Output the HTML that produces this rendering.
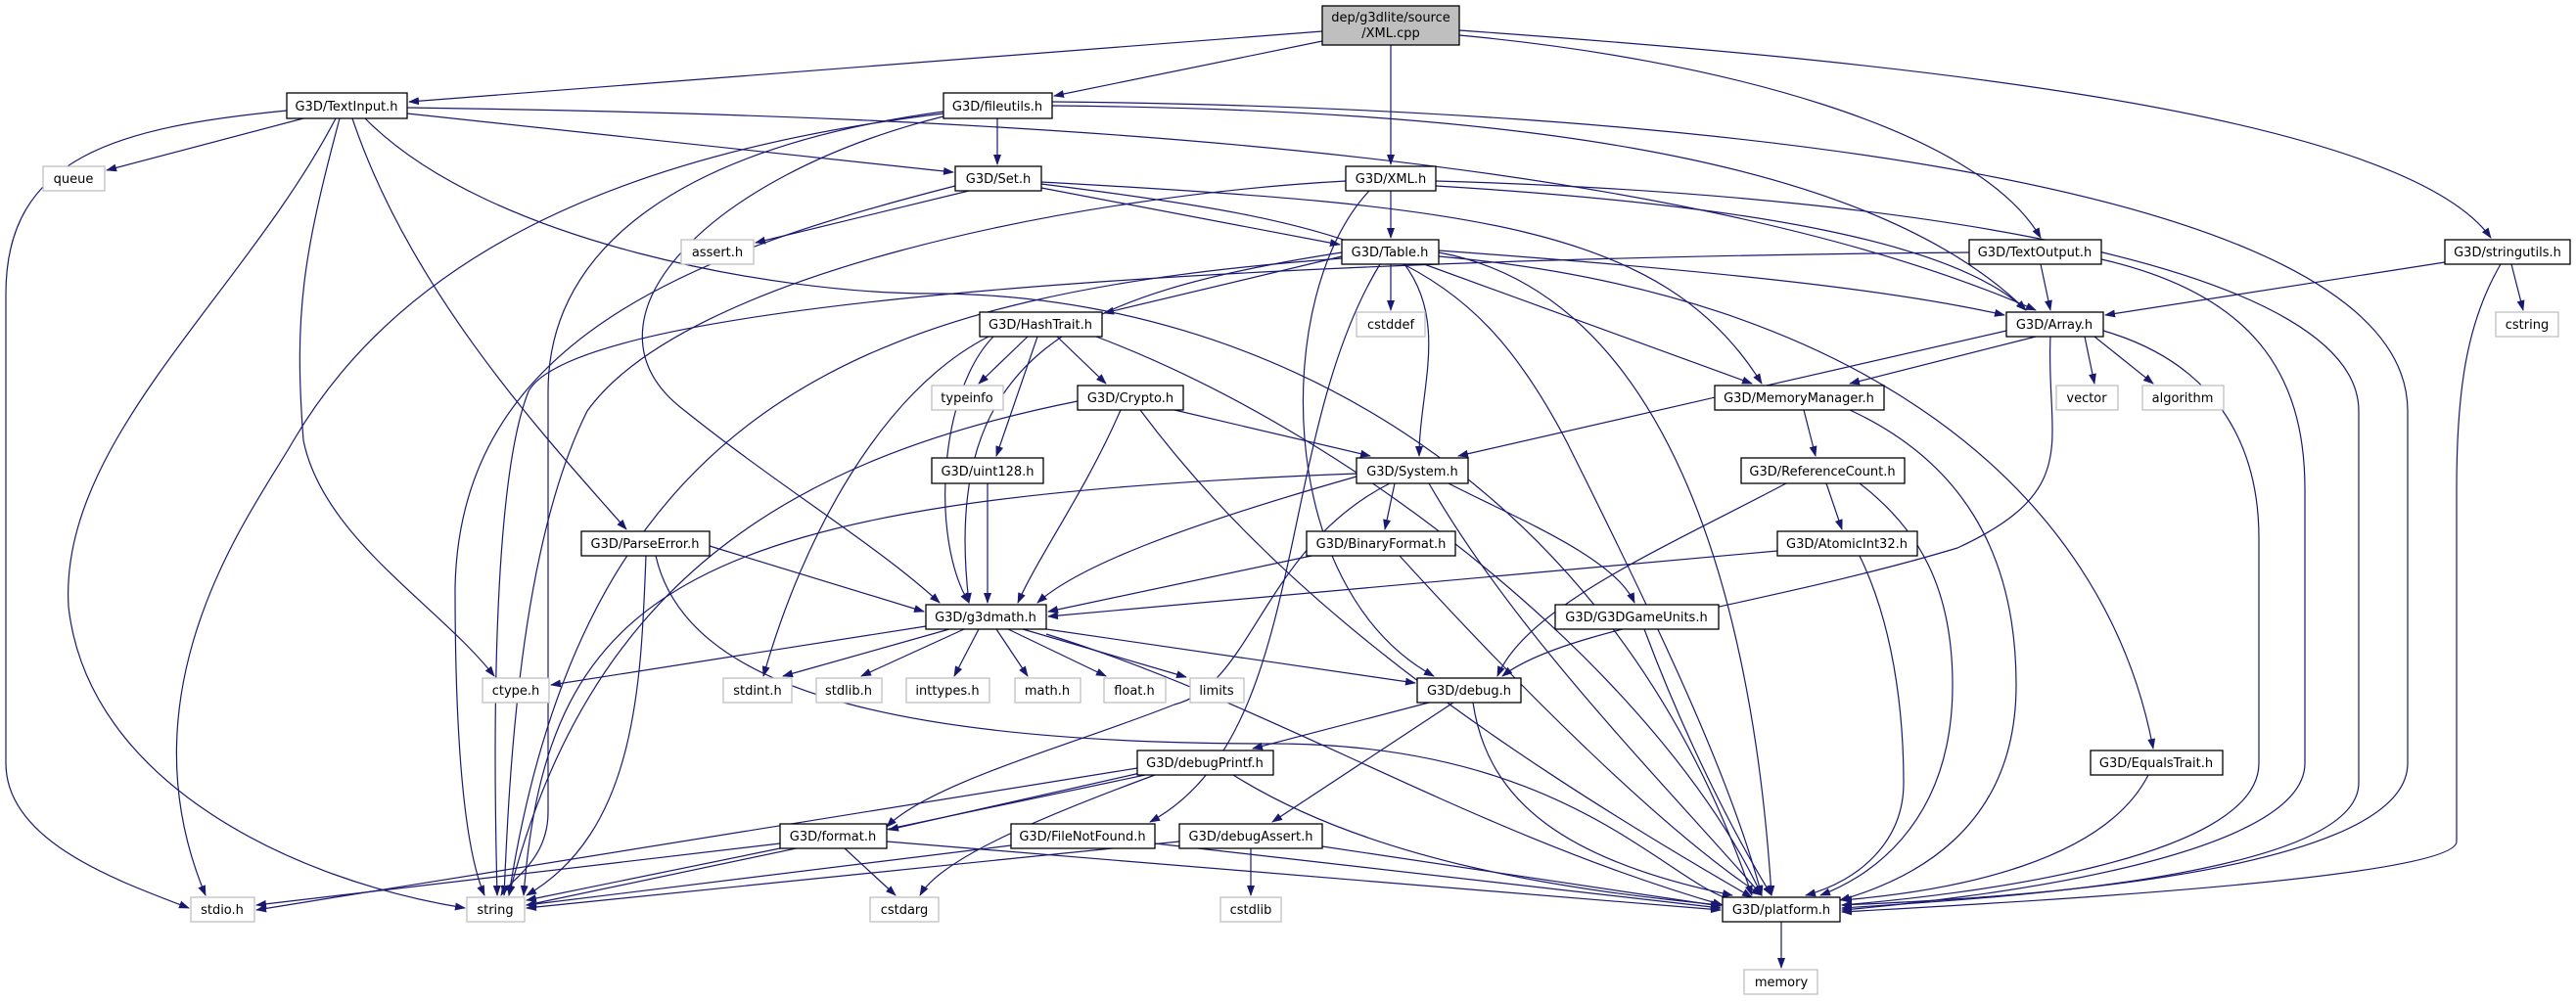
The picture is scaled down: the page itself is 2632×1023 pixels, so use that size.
<!DOCTYPE html>
<html><head><meta charset="utf-8"><style>
html,body{margin:0;padding:0;background:#fff;}
svg{display:block;}
text{font-family:"DejaVu Sans","Liberation Sans",sans-serif;font-size:13px;fill:#000;}
.e path{fill:none;stroke:#191970;stroke-width:1.2;}
.n rect{fill:#fff;stroke:#000;stroke-width:1.3;}
.g rect{fill:#fff;stroke:#bfbfbf;stroke-width:1.3;}
</style></head><body>
<svg width="2632" height="1023" viewBox="0 0 2632 1023" xmlns="http://www.w3.org/2000/svg">
<defs><marker id="a" markerWidth="11" markerHeight="8" refX="10" refY="4" orient="auto" markerUnits="userSpaceOnUse"><path d="M0,0 L11,4 L0,8 z" fill="#191970"/></marker></defs>
<g class="e" marker-end="url(#a)">
<path d="M1351,32 L418,104" marker-end="url(#a)"/>
<path d="M1351,42 L1077,98" marker-end="url(#a)"/>
<path d="M1421,46 L1421,168" marker-end="url(#a)"/>
<path d="M1491,36 C1750,60 2020,130 2085,243" marker-end="url(#a)"/>
<path d="M1491,31 C1900,60 2450,110 2545,243" marker-end="url(#a)"/>
<path d="M310,121 L109,174" marker-end="url(#a)"/>
<path d="M416,116 L974,176" marker-end="url(#a)"/>
<path d="M416,110 C1000,118 1700,150 2080,317" marker-end="url(#a)"/>
<path d="M373,121 C500,250 800,300 950,300 C1300,300 1650,500 1790,915" marker-end="url(#a)"/>
<path d="M293,113 C120,130 6,160 6,300 L6,780 C6,860 120,900 193,928" marker-end="url(#a)"/>
<path d="M343,121 C250,300 60,450 70,620 C90,800 300,900 475,928" marker-end="url(#a)"/>
<path d="M347,121 C310,260 300,320 310,450 C330,550 450,620 505,691" marker-end="url(#a)"/>
<path d="M360,121 C420,300 560,450 640,541" marker-end="url(#a)"/>
<path d="M1019,121 L1019,168" marker-end="url(#a)"/>
<path d="M1075,108 C1500,112 1900,150 2070,317" marker-end="url(#a)"/>
<path d="M1075,104 C1700,110 2460,180 2460,420 L2460,780 C2460,900 2000,920 1882,925" marker-end="url(#a)"/>
<path d="M964,114 C700,150 560,250 560,400 L560,830 C560,880 520,900 512,915" marker-end="url(#a)"/>
<path d="M964,116 C600,160 400,280 300,450 C260,520 120,700 210,915" marker-end="url(#a)"/>
<path d="M964,119 C720,180 580,330 700,420 C800,500 900,560 960,616" marker-end="url(#a)"/>
<path d="M990,195 L772,248" marker-end="url(#a)"/>
<path d="M1064,192 L1369,250" marker-end="url(#a)"/>
<path d="M976,190 C700,260 470,350 465,600 C465,800 480,880 495,915" marker-end="url(#a)"/>
<path d="M1064,186 C1500,210 1700,230 1800,392" marker-end="url(#a)"/>
<path d="M1064,188 C1400,230 1500,260 1600,450 C1700,650 1770,800 1800,915" marker-end="url(#a)"/>
<path d="M1421,195 L1421,243" marker-end="url(#a)"/>
<path d="M1467,190 C1800,210 2000,250 2070,317" marker-end="url(#a)"/>
<path d="M1467,185 C2000,200 2410,280 2410,420 L2410,800 C2410,900 2000,920 1882,928" marker-end="url(#a)"/>
<path d="M1399,195 C1300,300 1300,600 1465,691" marker-end="url(#a)"/>
<path d="M1375,185 C1100,200 700,280 600,420 C530,560 520,800 515,915" marker-end="url(#a)"/>
<path d="M1371,262 L1128,320" marker-end="url(#a)"/>
<path d="M1421,270 L1421,317" marker-end="url(#a)"/>
<path d="M1435,270 C1480,330 1450,400 1450,466" marker-end="url(#a)"/>
<path d="M1470,256 C1800,280 1950,300 2048,322" marker-end="url(#a)"/>
<path d="M1455,270 L1790,392" marker-end="url(#a)"/>
<path d="M1470,262 C1900,300 2150,500 2200,765" marker-end="url(#a)"/>
<path d="M1371,258 C1100,300 960,360 990,616" marker-end="url(#a)"/>
<path d="M1371,264 C900,300 600,400 520,915" marker-end="url(#a)"/>
<path d="M1470,258 C1700,300 1790,600 1810,915" marker-end="url(#a)"/>
<path d="M1410,270 C1300,450 1340,750 1175,840" marker-end="url(#a)"/>
<path d="M2085,270 L2095,317" marker-end="url(#a)"/>
<path d="M2147,265 C2300,300 2355,380 2355,500 L2355,780 C2355,880 2000,920 1882,930" marker-end="url(#a)"/>
<path d="M2012,258 C1500,262 600,290 540,400 C500,500 505,800 508,915" marker-end="url(#a)"/>
<path d="M2498,268 L2151,322" marker-end="url(#a)"/>
<path d="M2566,270 L2578,317" marker-end="url(#a)"/>
<path d="M2555,270 C2520,330 2510,400 2510,500 L2510,860 C2510,900 2000,925 1882,932" marker-end="url(#a)"/>
<path d="M1050,344 L1000,392" marker-end="url(#a)"/>
<path d="M1080,344 L1130,392" marker-end="url(#a)"/>
<path d="M1060,344 L1018,466" marker-end="url(#a)"/>
<path d="M1015,344 C960,400 950,550 990,616" marker-end="url(#a)"/>
<path d="M1010,344 C900,400 820,550 780,691" marker-end="url(#a)"/>
<path d="M1120,344 C1400,450 1700,700 1800,915" marker-end="url(#a)"/>
<path d="M2080,344 L1890,392" marker-end="url(#a)"/>
<path d="M2130,344 L2140,392" marker-end="url(#a)"/>
<path d="M2140,344 L2200,392" marker-end="url(#a)"/>
<path d="M2050,338 L1490,466" marker-end="url(#a)"/>
<path d="M2095,344 C2090,450 2130,500 2000,560 C1800,620 1600,640 1535,691" marker-end="url(#a)"/>
<path d="M2149,338 C2260,370 2308,450 2308,550 L2308,780 C2308,880 2000,915 1882,925" marker-end="url(#a)"/>
<path d="M1200,419 L1400,466" marker-end="url(#a)"/>
<path d="M1145,419 C1110,500 1060,570 1040,616" marker-end="url(#a)"/>
<path d="M1101,410 C800,470 600,600 520,915" marker-end="url(#a)"/>
<path d="M1165,419 C1300,600 1500,750 1790,917" marker-end="url(#a)"/>
<path d="M1843,419 L1855,466" marker-end="url(#a)"/>
<path d="M1890,419 C2000,470 2060,560 2060,700 C2060,850 1950,900 1880,920" marker-end="url(#a)"/>
<path d="M1009,494 L1009,616" marker-end="url(#a)"/>
<path d="M1386,487 C1200,540 1100,580 1060,616" marker-end="url(#a)"/>
<path d="M1425,494 L1415,541" marker-end="url(#a)"/>
<path d="M1480,494 C1550,530 1650,570 1670,616" marker-end="url(#a)"/>
<path d="M1386,484 C700,510 560,600 535,915" marker-end="url(#a)"/>
<path d="M1460,494 C1550,650 1700,800 1800,915" marker-end="url(#a)"/>
<path d="M1420,494 C1290,560 1280,700 1200,720 C1100,760 950,800 906,845" marker-end="url(#a)"/>
<path d="M1866,494 L1882,541" marker-end="url(#a)"/>
<path d="M1825,494 C1700,560 1560,620 1530,691" marker-end="url(#a)"/>
<path d="M1900,494 C1960,540 1995,600 1995,700 C1995,850 1900,900 1860,915" marker-end="url(#a)"/>
<path d="M725,558 L944,625" marker-end="url(#a)"/>
<path d="M660,568 C655,700 650,850 538,915" marker-end="url(#a)"/>
<path d="M670,568 C700,700 900,760 1300,760 C1600,760 1700,900 1770,920" marker-end="url(#a)"/>
<path d="M1340,568 L1071,625" marker-end="url(#a)"/>
<path d="M1430,568 C1550,700 1700,850 1800,915" marker-end="url(#a)"/>
<path d="M1816,563 L1071,630" marker-end="url(#a)"/>
<path d="M1900,568 C1940,650 1945,750 1945,800 C1945,860 1900,900 1845,915" marker-end="url(#a)"/>
<path d="M946,640 L563,700" marker-end="url(#a)"/>
<path d="M970,643 L800,691" marker-end="url(#a)"/>
<path d="M985,643 L880,691" marker-end="url(#a)"/>
<path d="M1000,643 L975,691" marker-end="url(#a)"/>
<path d="M1018,643 L1050,691" marker-end="url(#a)"/>
<path d="M1030,643 L1130,691" marker-end="url(#a)"/>
<path d="M1045,643 L1212,692" marker-end="url(#a)"/>
<path d="M1069,643 L1446,698" marker-end="url(#a)"/>
<path d="M1069,648 C1300,720 1500,850 1760,925" marker-end="url(#a)"/>
<path d="M1680,643 C1720,750 1770,850 1810,915" marker-end="url(#a)"/>
<path d="M1460,718 L1280,765" marker-end="url(#a)"/>
<path d="M1485,718 L1300,840" marker-end="url(#a)"/>
<path d="M1505,718 C1520,820 1600,880 1770,915" marker-end="url(#a)"/>
<path d="M1165,790 L908,848" marker-end="url(#a)"/>
<path d="M1162,785 L262,930" marker-end="url(#a)"/>
<path d="M1170,792 L538,925" marker-end="url(#a)"/>
<path d="M1180,792 C1050,840 960,880 940,915" marker-end="url(#a)"/>
<path d="M1260,792 C1400,880 1600,910 1758,925" marker-end="url(#a)"/>
<path d="M2195,792 C2150,880 2000,910 1882,920" marker-end="url(#a)"/>
<path d="M797,862 L262,925" marker-end="url(#a)"/>
<path d="M797,867 L538,920" marker-end="url(#a)"/>
<path d="M863,867 L915,915" marker-end="url(#a)"/>
<path d="M906,860 L1758,930" marker-end="url(#a)"/>
<path d="M1033,864 L538,925" marker-end="url(#a)"/>
<path d="M1180,862 L1758,928" marker-end="url(#a)"/>
<path d="M1278,867 L1278,915" marker-end="url(#a)"/>
<path d="M1205,860 L538,928" marker-end="url(#a)"/>
<path d="M1351,865 L1758,926" marker-end="url(#a)"/>
<path d="M1820,942 L1820,989" marker-end="url(#a)"/>
</g>
<g text-anchor="middle">
<g class="n"><rect x="1351" y="6" width="140" height="40" style="fill:#bfbfbf"/><text x="1421" y="22">dep/g3dlite/source</text><text x="1421" y="38">/XML.cpp</text></g>
<g class="n"><rect x="293" y="95" width="123" height="26"/><text x="354" y="113">G3D/TextInput.h</text></g>
<g class="n"><rect x="964" y="95" width="111" height="26"/><text x="1019" y="113">G3D/fileutils.h</text></g>
<g class="n"><rect x="976" y="170" width="88" height="25"/><text x="1020" y="187">G3D/Set.h</text></g>
<g class="n"><rect x="1375" y="170" width="92" height="25"/><text x="1421" y="187">G3D/XML.h</text></g>
<g class="g"><rect x="44" y="170" width="63" height="25"/><text x="75" y="187">queue</text></g>
<g class="g"><rect x="696" y="245" width="74" height="25"/><text x="733" y="262">assert.h</text></g>
<g class="n"><rect x="1371" y="245" width="99" height="25"/><text x="1420" y="262">G3D/Table.h</text></g>
<g class="n"><rect x="2012" y="245" width="135" height="25"/><text x="2079" y="262">G3D/TextOutput.h</text></g>
<g class="n"><rect x="2498" y="245" width="128" height="25"/><text x="2562" y="262">G3D/stringutils.h</text></g>
<g class="n"><rect x="1001" y="319" width="125" height="25"/><text x="1063" y="336">G3D/HashTrait.h</text></g>
<g class="g"><rect x="1386" y="319" width="70" height="25"/><text x="1421" y="336">cstddef</text></g>
<g class="n"><rect x="2050" y="319" width="99" height="25"/><text x="2099" y="336">G3D/Array.h</text></g>
<g class="g"><rect x="2550" y="319" width="64" height="25"/><text x="2582" y="336">cstring</text></g>
<g class="g"><rect x="952" y="394" width="73" height="25"/><text x="988" y="411">typeinfo</text></g>
<g class="n"><rect x="1101" y="394" width="108" height="25"/><text x="1155" y="411">G3D/Crypto.h</text></g>
<g class="n"><rect x="1752" y="394" width="173" height="25"/><text x="1838" y="411">G3D/MemoryManager.h</text></g>
<g class="g"><rect x="2101" y="394" width="63" height="25"/><text x="2132" y="411">vector</text></g>
<g class="g"><rect x="2189" y="394" width="83" height="25"/><text x="2230" y="411">algorithm</text></g>
<g class="n"><rect x="952" y="468" width="114" height="26"/><text x="1009" y="486">G3D/uint128.h</text></g>
<g class="n"><rect x="1386" y="468" width="114" height="26"/><text x="1443" y="486">G3D/System.h</text></g>
<g class="n"><rect x="1779" y="468" width="167" height="26"/><text x="1862" y="486">G3D/ReferenceCount.h</text></g>
<g class="n"><rect x="594" y="543" width="131" height="25"/><text x="659" y="560">G3D/ParseError.h</text></g>
<g class="n"><rect x="1335" y="543" width="152" height="25"/><text x="1411" y="560">G3D/BinaryFormat.h</text></g>
<g class="n"><rect x="1816" y="543" width="143" height="25"/><text x="1887" y="560">G3D/AtomicInt32.h</text></g>
<g class="n"><rect x="946" y="618" width="123" height="25"/><text x="1007" y="635">G3D/g3dmath.h</text></g>
<g class="n"><rect x="1589" y="618" width="167" height="25"/><text x="1672" y="635">G3D/G3DGameUnits.h</text></g>
<g class="g"><rect x="493" y="693" width="68" height="25"/><text x="527" y="710">ctype.h</text></g>
<g class="g"><rect x="739" y="693" width="70" height="25"/><text x="774" y="710">stdint.h</text></g>
<g class="g"><rect x="834" y="693" width="67" height="25"/><text x="867" y="710">stdlib.h</text></g>
<g class="g"><rect x="926" y="693" width="85" height="25"/><text x="968" y="710">inttypes.h</text></g>
<g class="g"><rect x="1037" y="693" width="67" height="25"/><text x="1070" y="710">math.h</text></g>
<g class="g"><rect x="1128" y="693" width="63" height="25"/><text x="1159" y="710">float.h</text></g>
<g class="g"><rect x="1216" y="693" width="55" height="25"/><text x="1243" y="710">limits</text></g>
<g class="n"><rect x="1448" y="693" width="106" height="25"/><text x="1501" y="710">G3D/debug.h</text></g>
<g class="n"><rect x="1162" y="767" width="139" height="25"/><text x="1231" y="784">G3D/debugPrintf.h</text></g>
<g class="n"><rect x="2136" y="767" width="135" height="25"/><text x="2203" y="784">G3D/EqualsTrait.h</text></g>
<g class="n"><rect x="797" y="842" width="109" height="25"/><text x="851" y="859">G3D/format.h</text></g>
<g class="n"><rect x="1033" y="842" width="147" height="25"/><text x="1106" y="859">G3D/FileNotFound.h</text></g>
<g class="n"><rect x="1205" y="842" width="146" height="25"/><text x="1278" y="859">G3D/debugAssert.h</text></g>
<g class="g"><rect x="195" y="917" width="65" height="25"/><text x="227" y="934">stdio.h</text></g>
<g class="g"><rect x="477" y="917" width="59" height="25"/><text x="506" y="934">string</text></g>
<g class="g"><rect x="889" y="917" width="70" height="25"/><text x="924" y="934">cstdarg</text></g>
<g class="g"><rect x="1247" y="917" width="62" height="25"/><text x="1278" y="934">cstdlib</text></g>
<g class="n"><rect x="1760" y="917" width="120" height="25"/><text x="1820" y="934">G3D/platform.h</text></g>
<g class="g"><rect x="1782" y="991" width="75" height="25"/><text x="1820" y="1008">memory</text></g>
</g>
</svg>
</body></html>
